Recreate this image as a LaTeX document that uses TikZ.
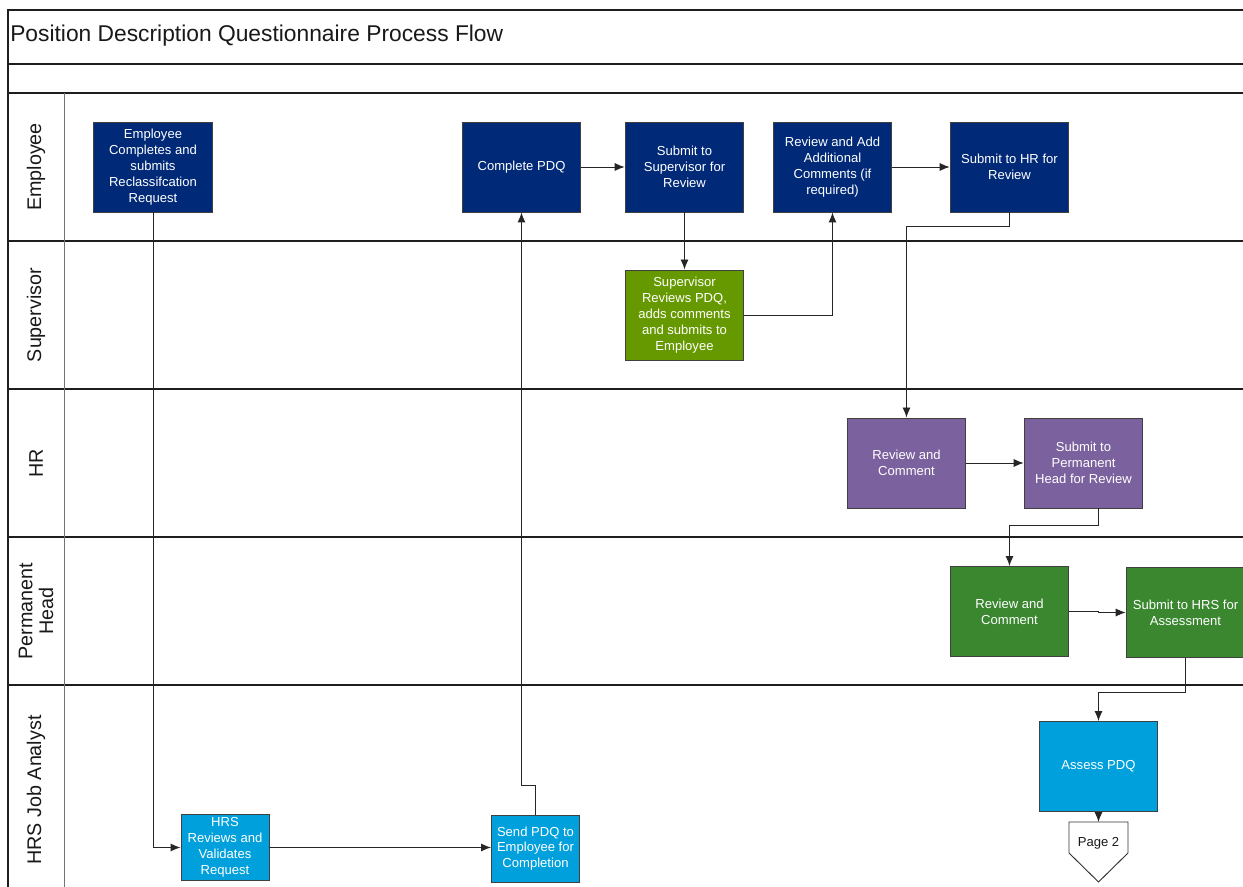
\documentclass[tikz,border=0pt]{standalone}
\usepackage{fontspec}
\setmainfont{Liberation Sans}
\usetikzlibrary{arrows.meta}
\definecolor{navy}{RGB}{0,41,120}
\definecolor{supgreen}{RGB}{102,153,0}
\definecolor{hrpurple}{RGB}{123,98,158}
\definecolor{phgreen}{RGB}{58,135,48}
\definecolor{hrsblue}{RGB}{0,160,220}
\definecolor{frame}{RGB}{30,30,30}
\tikzset{
  box/.style={draw=black!75, line width=0.7pt, minimum width=89pt, minimum height=67.5pt,
    align=center, text=white, inner sep=0pt, font=\fontsize{9.8}{11.9}\selectfont},
  smallbox/.style={box, minimum width=66pt, minimum height=49.5pt},
  flow/.style={draw=black!85, line width=0.7pt, -{Latex[length=7.5pt,width=6pt]}},
  lane/.style={draw=frame, line width=1.1pt},
  divider/.style={draw=black!55, line width=0.6pt},
  lanelabel/.style={rotate=90, font=\fontsize{14.8}{15.5}\selectfont, align=center, text=black!90},
}
\begin{document}
\begin{tikzpicture}[x=0.75pt,y=-0.75pt]
\useasboundingbox (0,0) rectangle (1243,887);
\fill[white] (0,0) rectangle (1243,887);
% frame and lanes
\draw[lane, line width=1.5pt] (8,900) -- (8,10) -- (1260,10);
\draw[lane] (8,64) -- (1260,64);
\draw[lane] (8,93) -- (1260,93);
\draw[lane] (8,241) -- (1260,241);
\draw[lane] (8,389) -- (1260,389);
\draw[lane] (8,537) -- (1260,537);
\draw[lane] (8,685) -- (1260,685);
\draw[divider] (64,93) -- (64,900);
\node[anchor=west, font=\fontsize{17.1}{19}\selectfont, text=black!90, inner sep=0pt] (title) at (10,36) {Position Description Questionnaire Process Flow};
% lane labels
\node[lanelabel] (lE) at (36,167) {Employee};
\node[lanelabel] (lS) at (36,315) {Supervisor};
\node[lanelabel] (lH) at (36,463) {HR};
\node[lanelabel] (lP) at (36,611) {Permanent\\Head};
\node[lanelabel] (lJ) at (36,790) {HRS Job Analyst};
% employee lane
\node[box, fill=navy] (e1) at (153,167) {Employee\\Completes and\\submits\\Reclassifcation\\Request};
\node[box, fill=navy] (cpdq) at (521.5,167) {Complete PDQ};
\node[box, fill=navy] (subsup) at (684.5,167) {Submit to\\Supervisor for\\Review};
\node[box, fill=navy] (radd) at (832.5,167) {Review and Add\\Additional\\Comments (if\\required)};
\node[box, fill=navy] (subhr) at (1009.5,167) {Submit to HR for\\Review};
% supervisor lane
\node[box, fill=supgreen] (suprev) at (684.5,315) {Supervisor\\Reviews PDQ,\\adds comments\\and submits to\\Employee};
% HR lane
\node[box, fill=hrpurple] (hrrev) at (906.5,463) {Review and\\Comment};
\node[box, fill=hrpurple] (subph) at (1083.5,463) {Submit to\\Permanent\\Head for Review};
% permanent head lane
\node[box, fill=phgreen] (phrev) at (1009.5,611.5) {Review and\\Comment};
\node[box, fill=phgreen] (subhrs) at (1185.5,612.5) {Submit to HRS for\\Assessment};
% HRS lane
\node[box, fill=hrsblue] (assess) at (1098.5,766.5) {Assess PDQ};
\node[smallbox, fill=hrsblue] (hrsrev) at (225,847.5) {HRS\\Reviews and\\Validates\\Request};
\node[smallbox, fill=hrsblue, minimum height=50.25pt] (send) at (535.5,848.5) {Send PDQ to\\Employee for\\Completion};
% page 2 off-page connector
\draw[draw=black!80, fill=white, line width=0.7pt] (1069,822) -- (1128,822) -- (1128,853) -- (1098.5,882) -- (1069,853) -- cycle;
\coordinate (p2top) at (1098.5,822);
\node[font=\fontsize{9.8}{11}\selectfont, text=black!90] (p2) at (1098.5,843) {Page 2};
% connectors
\draw[flow] (e1.south) |- (hrsrev.west);
\draw[flow] (hrsrev.east) -- (send.west |- hrsrev.east);
\draw[flow] (send.north) -- (535.5,785) -| (cpdq.south);
\draw[flow] (cpdq.east) -- (subsup.west);
\draw[flow] (subsup.south) -- (suprev.north);
\draw[flow] (suprev.east) -| (radd.south);
\draw[flow] (radd.east) -- (subhr.west);
\draw[flow] (subhr.south) -- (1009.5,226) -| (hrrev.north);
\draw[flow] (hrrev.east) -- (subph.west);
\draw[flow] (1098,508) -- (1098,525) -| (phrev.north);
\draw[flow] (phrev.east) -- ++(29,0) |- (subhrs.west);
\draw[flow] (subhrs.south) -- (1185.5,692) -| (assess.north);
\draw[flow] (assess.south) -- (p2top);
\end{tikzpicture}
\end{document}
